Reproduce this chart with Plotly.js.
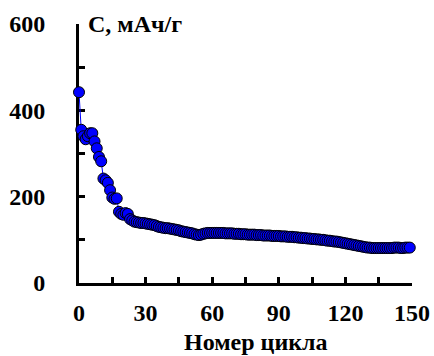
<!DOCTYPE html>
<html>
<head>
<meta charset="utf-8">
<script src="https://cdn.plot.ly/plotly-3.0.1.min.js"></script>
<style>
html,body{margin:0;padding:0;background:#fff;}
#chart{width:434px;height:356px;}
</style>
</head>
<body>
<div id="chart"></div>
<script>
// Cycle numbers 0..149
var cycles = [];
for (var i = 0; i < 150; i++) cycles.push(i);

// Capacity values (mAh/g)
var capacity = [
  442, 355, 340, 333, 340, 347, 347, 328, 312, 292,
  282, 242, 238, 232, 215, 198, 195, 196, 165, 160,
  158, 162, 160, 148, 145, 142, 141, 140, 139, 139,
  138,
  137, 136, 135, 134, 132, 130, 129, 128, 127, 127, 126, 125, 124, 123, 122,
  120, 119, 118, 117, 116, 115, 113, 112, 111, 112,
  114, 115, 116, 116, 116, 116, 116, 116, 116, 116, 115, 115, 115, 115, 114,
  114, 114, 113, 113, 113, 112, 112, 112, 112, 111, 111, 111, 110, 110, 110, 110, 109, 109, 109, 109,
  108, 108, 108, 107, 107, 107, 106, 106, 105, 105, 104, 104, 103, 103, 102, 102, 101, 101, 100, 100,
  99, 98, 98, 97, 96, 96, 95, 94, 93, 92, 91, 90, 89, 88, 87, 86, 85, 84, 83, 82,
  82, 81, 81, 81, 81, 81, 81, 81, 81, 81, 81, 82, 82, 82, 81, 81, 82, 82, 82
];

var xTickVals = [0, 15, 30, 45, 60, 75, 90, 105, 120, 135, 150];
var xTickText = ['0', '', '30', '', '60', '', '90', '', '120', '', '150'];
var yTickVals = [0, 100, 200, 300, 400, 500, 600];
var yTickText = ['0', '', '200', '', '400', '', '600'];

var fam = 'Liberation Serif';

var trace = {
  x: cycles,
  y: capacity,
  type: 'scatter',
  mode: 'lines+markers',
  line: {color: '#0000ff', width: 1},
  marker: {color: '#0000ff', size: 11, line: {color: '#000000', width: 1}},
  cliponaxis: false,
  hoverinfo: 'none'
};

var layout = {
  width: 434,
  height: 356,
  margin: {l: 79, r: 22, t: 24, b: 73},
  paper_bgcolor: '#ffffff',
  plot_bgcolor: '#ffffff',
  showlegend: false,
  xaxis: {
    range: [0, 150],
    showgrid: false,
    zeroline: false,
    showline: true,
    linecolor: '#000000',
    linewidth: 3,
    ticks: 'inside',
    ticklen: 6,
    tickwidth: 3,
    tickcolor: '#000000',
    tickvals: xTickVals,
    ticktext: xTickText,
    tickfont: {family: fam, size: 24, color: '#000000', weight: 'bold'},
    ticklabelstandoff: 6,
    layer: 'below traces'
  },
  yaxis: {
    range: [0, 600],
    showgrid: false,
    zeroline: false,
    showline: true,
    linecolor: '#000000',
    linewidth: 3,
    ticks: 'inside',
    ticklen: 6,
    tickwidth: 3,
    tickcolor: '#000000',
    tickvals: yTickVals,
    ticktext: yTickText,
    tickfont: {family: fam, size: 24, color: '#000000', weight: 'bold'},
    ticklabelstandoff: 26,
    layer: 'below traces'
  },
  annotations: [
    {
      text: 'C, мАч/г',
      xref: 'paper', yref: 'paper',
      x: 0.021, y: 1.0,
      xanchor: 'left', yanchor: 'middle',
      showarrow: false,
      font: {family: fam, size: 24, color: '#000000', weight: 'bold'}
    },
    {
      text: 'Номер цикла',
      xref: 'paper', yref: 'paper',
      x: 0.533, y: -0.17,
      xanchor: 'center', yanchor: 'top',
      showarrow: false,
      font: {family: fam, size: 24, color: '#000000', weight: 'bold'}
    }
  ]
};

Plotly.newPlot('chart', [trace], layout, {staticPlot: true, displayModeBar: false});
</script>
</body>
</html>
